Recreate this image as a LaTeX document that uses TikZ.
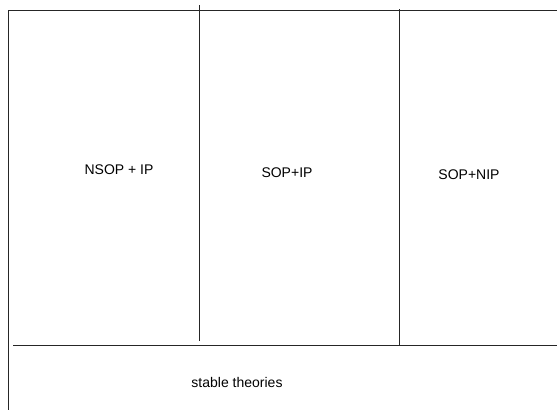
\documentclass[tikz,border=0pt]{standalone}
\usepackage{fontspec}
\setmainfont{Liberation Sans}
\begin{document}
\begin{tikzpicture}[x=1pt,y=-1pt,
  divider/.style={draw=black!85,line width=0.9pt},
  region/.style={font=\fontsize{14}{16}\selectfont,inner sep=0pt}]
\useasboundingbox (0,0) rectangle (557,410);
% frame lines
\coordinate (tl) at (8,10);
\coordinate (tr) at (557,10);
\coordinate (bl) at (8,410);
\draw[divider] (tr) -- (tl) -- (bl);
\coordinate (v1t) at (199,5);
\coordinate (v1b) at (199,341);
\draw[divider] (v1t) -- (v1b);
\coordinate (v2t) at (399,9);
\coordinate (v2b) at (399,345);
\draw[divider] (v2t) -- (v2b);
\coordinate (hl) at (13,345);
\coordinate (hr) at (557,345);
\draw[divider] (hl) -- (hr);
% labels
\node[region] (nsopip) at (119,170) {NSOP + IP};
\node[region] (sopip) at (287,172.5) {SOP+IP};
\node[region] (sopnip) at (469,175) {SOP+NIP};
\node[region] (stable) at (237,382.5) {stable theories};
\end{tikzpicture}
\end{document}
